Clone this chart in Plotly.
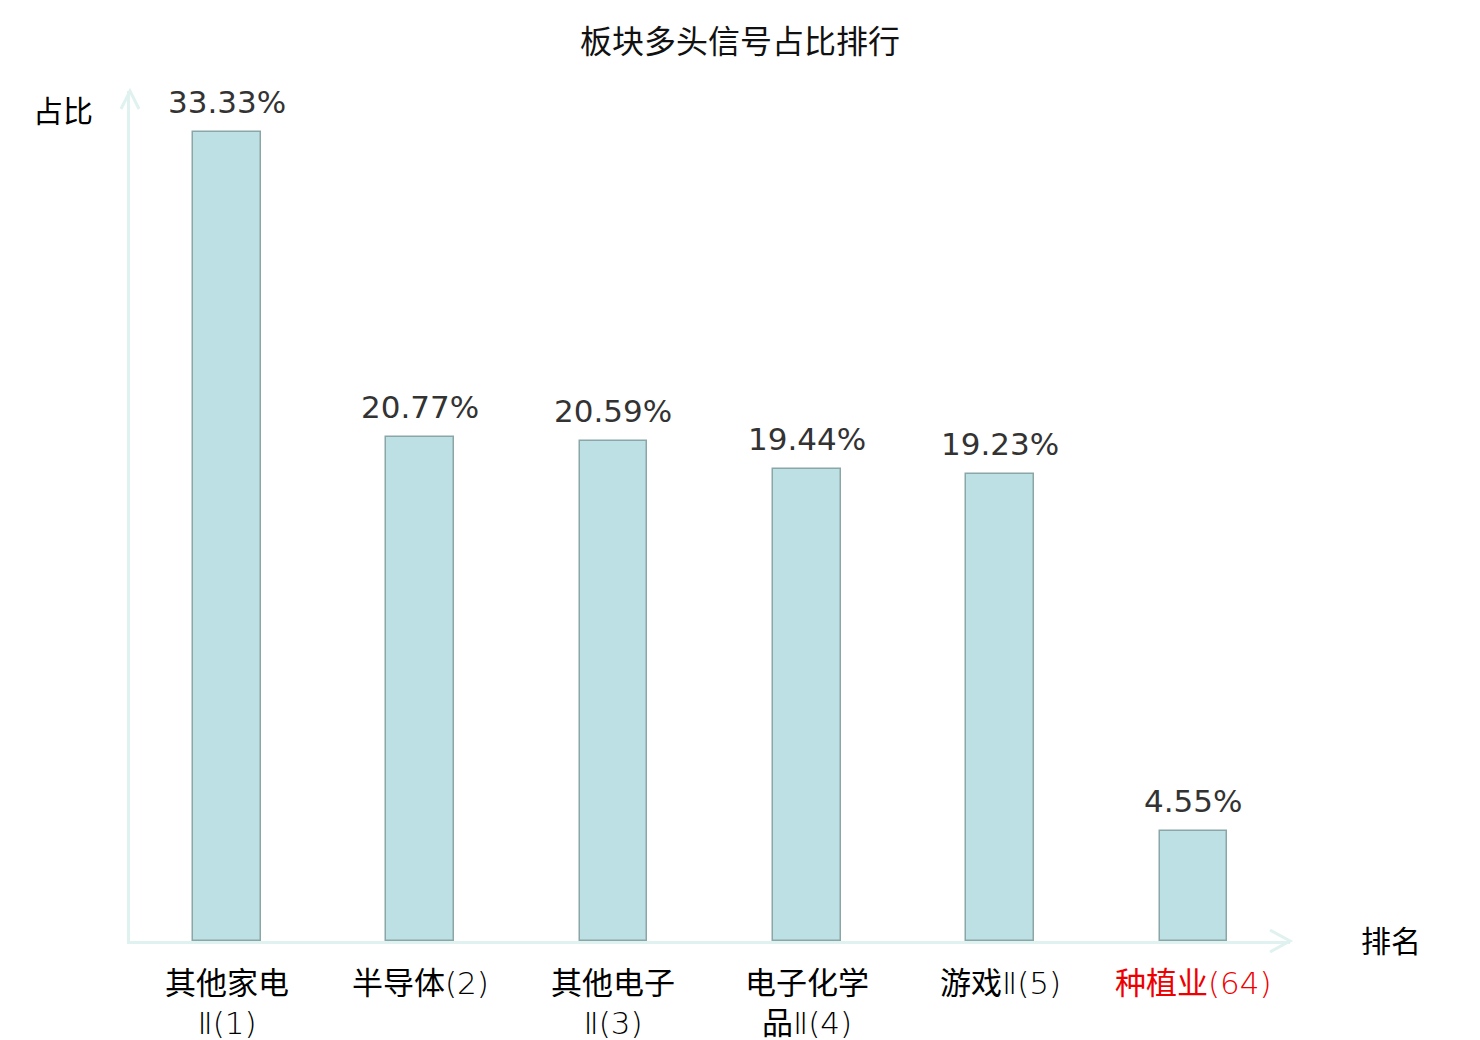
import plotly.graph_objects as go

title = "板块多头信号占比排行"
categories = ["其他家电<br>Ⅱ(1)", "半导体(2)", "其他电子<br>Ⅱ(3)", "电子化学<br>品Ⅱ(4)", "游戏Ⅱ(5)", "种植业(64)"]
values = [33.33, 20.77, 20.59, 19.44, 19.23, 4.55]
label_colors = ["#000000", "#000000", "#000000", "#000000", "#000000", "#ee0000"]
y_title = "占比"
x_title = "排名"

xs = list(range(len(categories)))

FONT = "DejaVu Sans, Noto Sans CJK SC, sans-serif"
TICKFONT = "'DejaVu Sans ExtraLight', 'DejaVu Sans Light', 'Noto Sans CJK SC', sans-serif"
AXIS_COLOR = "#dff2ef"

fig = go.Figure(go.Bar(
    x=xs, y=values,
    width=0.35,
    marker=dict(color="#bce0e3", line=dict(color="#8aa6a7", width=1.5)),
    cliponaxis=False,
    hoverinfo="x+y",
))

fig.update_layout(
    width=1480, height=1040,
    margin=dict(l=122, r=198, t=83, b=107),
    plot_bgcolor="white", paper_bgcolor="white",
    title=dict(text=title, x=732 / 1480, xanchor="center", y=1 - 34 / 1040, yanchor="middle",
               font=dict(size=32, color="#111111", family=FONT)),
    showlegend=False,
    xaxis=dict(range=[-0.5, 5.5], tickmode="array", tickvals=xs, showticklabels=False,
               showgrid=False, zeroline=False, showline=True, linecolor=AXIS_COLOR, linewidth=3,
               ticks=""),
    yaxis=dict(range=[0, 35], showgrid=False, zeroline=False, showline=True,
               linecolor=AXIS_COLOR, linewidth=3, showticklabels=False, ticks=""),
    bargap=0,
)

# bar value labels
for x, v in zip(xs, values):
    fig.add_annotation(x=x, y=v, text=f"{v:.2f}%", showarrow=False, xanchor="center",
                       yanchor="middle", yshift=30,
                       font=dict(size=31, color="#333333", family=FONT))

# category labels
for x, cat, col in zip(xs, categories, label_colors):
    fig.add_annotation(x=x, y=0, yref="paper", text=cat, showarrow=False,
                       xanchor="center", yanchor="top", yshift=-22, align="center",
                       font=dict(size=31, color=col, family=TICKFONT))

# arrow heads
fig.add_shape(type="path", xref="paper", yref="paper",
              path="M -0.0078 0.9788 L 0 1 L 0.0078 0.9788",
              line=dict(color=AXIS_COLOR, width=3))
fig.add_shape(type="path", xref="paper", yref="paper",
              path="M 0.9828 0.0129 L 1 0 L 0.9828 -0.0129",
              line=dict(color=AXIS_COLOR, width=3))

fig.add_annotation(text=y_title, xref="paper", yref="paper", x=(63 - 130) / 1160, y=(940 - 110) / 850,
                   showarrow=False, xanchor="center", yanchor="middle",
                   font=dict(size=30, color="#000000", family=FONT))
fig.add_annotation(text=x_title, xref="paper", yref="paper", x=(1391 - 130) / 1160, y=0,
                   showarrow=False, xanchor="center", yanchor="middle",
                   font=dict(size=30, color="#000000", family=FONT))

fig.write_html("out.html")
